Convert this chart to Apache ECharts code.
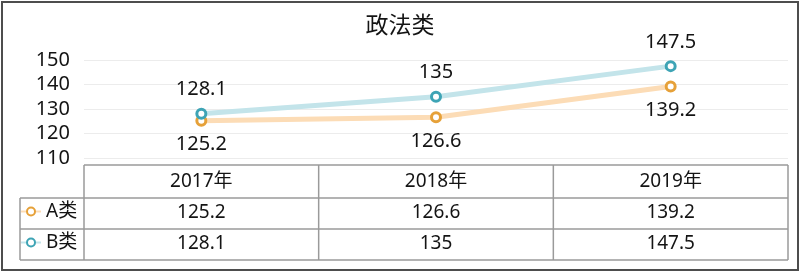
<!DOCTYPE html>
<html>
<head>
<meta charset="utf-8">
<script src="https://cdn.jsdelivr.net/npm/echarts@6/dist/echarts.min.js"></script>
<style>html,body{margin:0;padding:0;background:#fff}#c{width:800px;height:280px}</style>
</head>
<body>
<div id="c"></div>
<script>
var title = '政法类';
var categories = ['2017年', '2018年', '2019年'];
var seriesNames = ['A类', 'B类'];
var valuesA = [125.2, 126.6, 139.2];
var valuesB = [128.1, 135, 147.5];
var yMin = 110, yMax = 150, yStep = 10;

var FONT = '"Noto Sans", "Noto Sans CJK SC", sans-serif';
var TXT = '#141414';
var lineA = '#fcdcb6', markA = '#e6a139';
var lineB = '#c3e4ea', markB = '#3ea4b5';
var tableColor = '#9a9a9a';

var chart = echarts.init(document.getElementById('c'), null, {renderer: 'canvas'});

function rowAxis(fmt, margin) {
  return {
    type: 'category', data: categories, gridIndex: 0, position: 'bottom',
    boundaryGap: true,
    axisLine: {show: false}, axisTick: {show: false}, splitLine: {show: false},
    axisLabel: {
      show: true, margin: margin, verticalAlign: 'middle', interval: 0,
      fontFamily: FONT, fontSize: 19, color: TXT,
      formatter: fmt
    }
  };
}

var L = 84, R = 788, T0 = 165, T1 = 198, T2 = 229, T3 = 260, LL = 20;
var colW = (R - L) / categories.length;
var lines = [];
function ln(x1, y1, x2, y2) {
  lines.push({type: 'line', shape: {x1: x1, y1: y1, x2: x2, y2: y2},
    style: {stroke: tableColor, lineWidth: 1.5}, silent: true});
}
ln(L, T0, R, T0);
ln(LL, T1, R, T1);
ln(LL, T2, R, T2);
ln(LL, T3, R, T3);
ln(LL, T1, LL, T3);
for (var i = 0; i <= categories.length; i++) ln(L + colW * i, T0, L + colW * i, T3);
lines.push({type: 'rect', shape: {x: 2, y: 2, width: 796, height: 268},
  style: {fill: null, stroke: '#4d4d4d', lineWidth: 2}, silent: true});

var option = {
  backgroundColor: '#fff',
  animation: false,
  title: {
    text: title, left: 'center', top: 10,
    textStyle: {fontFamily: FONT, fontSize: 23, fontWeight: 'normal', color: TXT}
  },
  legend: [
    {data: [seriesNames[0]], left: 20, top: 202, padding: 0, itemWidth: 20, itemHeight: 10, itemGap: 4,
      textStyle: {fontFamily: FONT, fontSize: 19, color: TXT}},
    {data: [seriesNames[1]], left: 20, top: 233, padding: 0, itemWidth: 20, itemHeight: 10, itemGap: 4,
      textStyle: {fontFamily: FONT, fontSize: 19, color: TXT}}
  ],
  grid: {left: L, right: 800 - R, top: 60, bottom: 280 - 158, containLabel: false},
  xAxis: [
    rowAxis(function (v) { return v; }, 24),
    rowAxis(function (v, i) { return String(valuesA[i]); }, 55),
    rowAxis(function (v, i) { return String(valuesB[i]); }, 86)
  ],
  yAxis: {
    type: 'value', min: yMin, max: yMax, interval: yStep,
    axisLine: {show: false}, axisTick: {show: false},
    splitLine: {lineStyle: {color: '#ececec', width: 1}},
    axisLabel: {margin: 14, fontFamily: FONT, fontSize: 20, color: TXT}
  },
  graphic: lines,
  series: [
    {
      name: seriesNames[0], type: 'line', data: valuesA, xAxisIndex: 0,
      symbol: 'circle', symbolSize: 9,
      lineStyle: {color: lineA, width: 5},
      itemStyle: {color: '#fff', borderColor: markA, borderWidth: 3},
      label: {show: true, position: 'bottom', distance: 8, fontFamily: FONT, fontSize: 20, color: TXT},
      z: 3
    },
    {
      name: seriesNames[1], type: 'line', data: valuesB, xAxisIndex: 0,
      symbol: 'circle', symbolSize: 9,
      lineStyle: {color: lineB, width: 5},
      itemStyle: {color: '#fff', borderColor: markB, borderWidth: 3},
      label: {show: true, position: 'top', distance: 8, fontFamily: FONT, fontSize: 20, color: TXT},
      z: 4
    }
  ]
};
chart.setOption(option);
</script>
</body>
</html>
